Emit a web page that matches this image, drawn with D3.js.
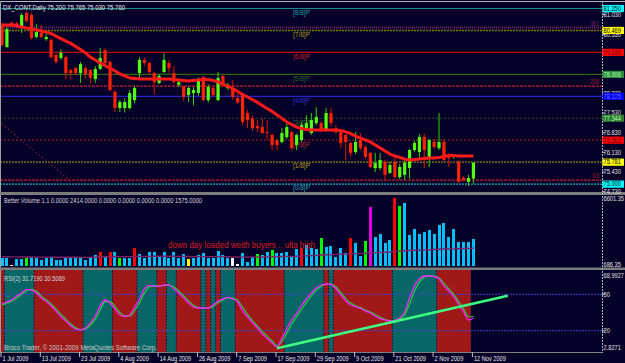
<!DOCTYPE html>
<html>
<head>
<meta charset="utf-8">
<script src="https://cdn.jsdelivr.net/npm/d3@7"></script>
<style>
  body { margin: 0; background: #050028; }
  svg { display: block; }
  text { font-family: "Liberation Sans", Arial, sans-serif; }
</style>
</head>
<body>
<svg id="chart" width="625" height="363"></svg>
<script>
// ---- datos ----
const opens  = [80.66,79.88,80.74,80.73,80.59,81.09,81.02,80.24,80.38,80.16,80.13,79.60,79.49,79.52,79.06,79.13,78.95,79.13,79.06,78.74,
                79.10,79.77,79.35,78.28,77.71,77.71,77.71,77.99,78.95,79.42,79.31,78.95,78.60,78.99,79.31,78.95,78.53,78.46,78.17,78.24,
                78.24,78.81,77.99,78.42,77.99,78.85,78.42,78.42,78.06,78.17,77.53,77.35,77.07,77.03,76.85,76.75,76.57,76.50,76.67,76.85,
                76.39,76.57,76.99,76.82,77.17,77.17,76.93,77.53,76.99,76.85,76.75,76.46,76.14,76.57,76.32,76.11,75.57,75.57,75.79,75.40,
                75.79,75.25,75.33,75.57,76.21,76.14,76.68,75.97,76.50,76.28,76.50,76.04,75.97,75.79,75.22,75.08,75.20];
const highs  = [80.75,80.60,80.80,80.78,81.09,81.15,81.10,80.70,80.66,80.35,80.20,79.65,79.80,79.58,79.10,79.18,79.35,79.20,79.10,79.20,
                79.85,79.85,79.40,78.35,78.00,78.05,78.35,78.50,79.52,79.50,79.35,79.00,78.92,79.66,79.42,79.20,78.70,78.50,78.48,78.45,
                78.80,78.85,78.55,78.50,78.99,78.90,78.60,78.71,78.20,78.25,77.64,77.45,77.28,77.35,77.28,76.80,76.62,77.00,77.15,76.90,
                76.80,77.21,77.45,77.53,77.74,77.25,77.71,77.71,77.10,76.92,76.80,76.50,76.85,76.82,76.40,76.15,76.11,76.11,75.86,75.79,
                75.97,75.72,75.86,76.25,76.55,76.78,76.78,76.62,76.60,77.53,76.60,76.11,76.07,75.86,75.30,75.33,75.765];
const lows   = [79.90,79.85,80.60,80.58,80.38,80.75,80.15,80.18,80.20,80.10,79.48,79.28,79.42,78.75,78.72,78.90,78.60,78.75,78.60,78.60,
                79.05,79.25,78.30,77.57,77.57,77.55,77.65,77.88,78.70,79.20,78.90,78.20,78.55,78.95,78.95,78.55,78.45,77.95,77.92,77.80,
                78.15,77.95,77.90,78.10,77.95,78.45,78.35,78.00,77.85,77.10,77.00,76.90,76.85,76.78,76.57,76.20,76.21,76.45,76.60,76.21,
                76.21,76.50,76.95,76.75,77.10,76.85,76.88,77.05,76.78,76.28,75.86,75.97,76.07,76.21,75.90,75.57,75.43,75.50,75.15,75.36,
                75.20,75.18,75.15,75.20,76.15,75.86,75.57,75.61,76.25,76.21,75.80,75.61,75.90,75.04,75.10,74.93,75.03];
const closes = [79.95,80.52,80.66,80.64,81.02,80.80,80.20,80.41,80.24,80.24,79.52,79.35,79.67,78.95,78.95,78.95,79.27,78.92,78.78,79.10,
                79.49,79.31,78.35,77.71,77.92,77.92,78.24,78.42,79.42,79.31,78.99,78.63,78.85,79.42,79.13,78.63,78.63,78.10,78.42,78.35,
                78.71,77.99,78.46,78.17,78.78,78.53,78.53,78.10,77.90,77.21,77.28,76.99,76.99,76.82,76.82,76.39,76.39,76.82,77.03,76.28,
                76.75,77.10,77.17,77.28,77.39,76.93,77.53,77.17,76.85,76.46,76.50,76.11,76.50,76.28,75.97,75.61,75.75,75.86,75.33,75.68,
                75.25,75.61,75.75,76.21,76.46,76.68,76.21,76.57,76.32,76.50,75.86,75.93,76.00,75.08,75.15,75.22,75.76];
const maLine = [80.66,80.66,80.66,80.63,80.59,80.56,80.52,80.49,80.45,80.41,80.36,80.27,80.18,80.09,80.01,79.90,79.79,79.67,79.52,79.42,
                79.31,79.22,79.13,79.03,78.92,78.85,78.78,78.76,78.74,78.74,78.74,78.74,78.74,78.74,78.74,78.72,78.71,78.69,78.67,78.69,
                78.71,78.72,78.72,78.69,78.64,78.56,78.49,78.40,78.30,78.19,78.10,78.01,77.91,77.80,77.69,77.59,77.46,77.34,77.21,77.12,
                77.03,76.98,76.94,76.93,76.93,76.93,76.93,76.93,76.93,76.91,76.86,76.80,76.71,76.64,76.57,76.50,76.39,76.29,76.18,76.07,
                76.00,75.95,75.89,75.86,75.88,75.89,75.91,75.93,75.93,75.95,75.98,76.02,76.02,76.00,76.00,76.00,76.00];

const volumes = [1353,1353,773,1266,1266,1353,1498,1353,1208,1353,1498,1208,1208,1353,1353,1353,1353,1208,1353,1643,
                 1933,1556,1933,1875,1353,1353,1353,2223,1701,1411,1875,1933,1585,1875,1411,1875,1353,1730,1266,1353,
                 1643,1846,1411,1353,1991,1643,1411,1411,860,1788,1063,1498,1730,1643,1933,2078,1788,1846,1933,1498,
                 2165,2281,2513,2223,2165,3151,2368,2426,1498,2281,1846,3151,2658,1556,2861,5848,3180,3470,2658,2948,
                 6601,5935,6196,3383,3905,3470,3615,3818,3470,4253,4398,3180,3934,2803,2803,2803,3006];
const volKinds = "bbwbbgbbbb" + "bbbbbbbbbb" + "rbrbgbbrbb" + "bbbbbbbbyb" + "bbbbbbbwwb" +
                 "bbgbbgbbbb" + "brbbbgbbbb" + "brbbgmbbbb" + "rgbbbbbbbb" + "bbbbbbb";
const volAvg = [1500,1490,1480,1480,1470,1470,1470,1460,1460,1460,1460,1450,1450,1450,1450,1450,1440,1440,1440,1450,
                1470,1490,1500,1510,1500,1500,1500,1510,1520,1520,1520,1530,1530,1540,1530,1530,1520,1520,1510,1500,
                1500,1500,1500,1500,1500,1500,1490,1480,1470,1460,1460,1460,1460,1470,1480,1490,1500,1510,1520,1520,
                1530,1550,1570,1590,1610,1640,1660,1680,1690,1710,1720,1740,1760,1770,1790,1830,1850,1870,1880,1900,
                1940,1980,2010,2030,2050,2070,2090,2100,2120,2140,2160,2170,2180,2190,2200,2220,2230];

const rsiMain = [42.0,43.7,45.3,48.6,51.1,54.0,53.5,51.1,46.9,44.1,40.4,36.2,31.3,28.0,23.9,21.4,20.6,22.2,26.4,32.1,
                 40.4,45.3,42.8,37.9,33.0,31.7,33.0,39.5,46.1,54.4,57.3,56.8,56.8,57.7,57.7,54.4,51.1,46.9,42.8,39.5,
                 38.7,38.7,38.7,41.2,44.5,46.1,47.4,46.1,43.7,36.2,31.3,26.4,22.2,17.3,13.6,9.8,6.5,14.0,21.4,28.8,
                 34.2,40.8,46.1,51.1,55.2,57.7,58.5,58.1,54.4,49.4,44.5,41.2,39.9,38.3,36.2,34.6,32.1,30.0,28.8,28.0,
                 28.4,30.5,35.4,46.9,56.8,62.6,65.1,65.1,64.7,62.6,56.8,52.7,47.8,41.6,35.4,28.8,30.5];
const rsiSignal = [41.0,42.8,44.5,47.0,50.0,53.0,54.0,52.5,48.5,45.5,42.0,38.0,33.5,29.5,25.5,22.5,20.8,21.5,24.5,29.5,
                   37.0,44.0,44.0,40.0,35.0,32.2,32.2,36.5,43.0,51.0,56.0,57.2,56.8,57.3,57.8,56.0,52.8,48.8,44.8,41.0,
                   39.0,38.7,38.7,40.0,43.0,45.5,47.0,46.8,45.0,39.5,33.5,28.5,24.0,19.5,15.5,11.5,7.5,11.0,18.0,25.5,
                   31.5,37.5,43.5,48.8,53.5,56.5,58.3,58.4,56.0,51.5,46.5,42.8,40.5,39.0,37.0,35.3,33.2,31.0,29.3,28.3,
                   28.2,29.6,33.0,42.0,52.5,60.0,64.0,65.2,65.0,63.5,59.0,54.5,50.0,44.0,38.0,31.5,31.7];
// r = zona roja, t = zona verde azulada, n = sin zona
const rsiZones = "r" + "tttttt" + "rrrrrrrrrr" + "tttttt" + "rrrrr" + "tttt" + "rr" + "tt" + "rrrrr" + "t" + "r" + "t" + "r" +
                 "ttt" + "rrrrrrrrrr" + "tttttttt" + "r" + "t" + "rrrrrrrrrrrr" + "ttttttttt" + "rrrrrrr" + "n";
const rsiTrend = [[56, 5.5], [103, 48.8]];

const murreyLevels = [81.25, 80.469, 79.688, 78.906, 78.125, 77.344, 76.563, 75.781, 75.0];
const murreyNames  = ['[8/8]P','[7/8]P','[6/8]P','[5/8]P','[4/8]P','[3/8]P','[2/8]P','[1/8]P','[0/8]P'];
const murreyTags   = ['81.250','80.469','79.688','78.906','78.125','77.344','76.563','75.781','75.000'];
const fibLevels = [80.57, 78.49, 75.14];
const fibNames  = ['38.2', '23.6', '0.0'];
const fibAnchor = [[0, 77.14], [13.65, 75.15]];
const priceTicks = [81.03, 80.33, 79.63, 78.93, 78.23, 77.53, 76.83, 76.13, 75.43, 74.73];
const dateTicks = [[0,'1 Jul 2009'],[8,'13 Jul 2009'],[16,'23 Jul 2009'],[24,'4 Aug 2009'],[32,'14 Aug 2009'],
                   [40,'26 Aug 2009'],[48,'7 Sep 2009'],[56,'17 Sep 2009'],[64,'29 Sep 2009'],[72,'9 Oct 2009'],
                   [80,'21 Oct 2009'],[88,'2 Nov 2009'],[96,'12 Nov 2009']];

// ---- estilos ----
const murreyLine = ['#148c8c','#7c7a00','#c01010','#2c6410','#2424c8','#24501c','#8c1c1c','#8c8414','#1cb4c4'];
const murreyDash = [null,'2,1',null,null,null,'2,2','2,2','2,1','2,1'];
const murreyLabelColor = ['#1aa0a0','#a09a18','#c02020','#2a6a2a','#3434d0','#306030','#a83030','#b0a018','#20a8b0'];
const murreyBox = ['#00ffff','#ffff00','#ff0000','#2e8b3e','#0000ff','#2e7d32','#ff0000','#ffff00','#00ffff'];
const murreyBoxText = ['#000000','#000000','#700000','#b0ffb0','#7070ff','#b0ffb0','#700000','#000000','#000000'];
const fibColor = ['#7a2070','#c02030','#c02030'];
const volColor = { b: '#00bfff', r: '#ff0000', g: '#00ff00', w: '#ffffff', y: '#ffff00', m: '#e000e0' };

const svg = d3.select('#chart');
const W = 625, H = 363, axisX = 602;

const x = d3.scaleLinear().domain([0, 96]).range([2, 473.4]);
const yPrice = d3.scaleLinear().domain([74.73, 81.03]).range([191.7, 14.7]);
const yVol = d3.scaleLinear().domain([686.35, 6601.35]).range([266, 198]);
const yRsi = d3.scaleLinear().domain([2.8271, 68.9927]).range([351.5, 271.3]);

function addText(sel, px, py, str, fill, size, width, anchor) {
    const t = sel.append('text').attr('x', px).attr('y', py).attr('fill', fill)
        .attr('font-size', size).text(str);
    if (anchor) t.attr('text-anchor', anchor);
    if (width) t.attr('textLength', width).attr('lengthAdjust', 'spacingAndGlyphs');
    return t;
}
function squeeze(t, k) {
    const w = t.node().getComputedTextLength();
    t.attr('textLength', w * k).attr('lengthAdjust', 'spacingAndGlyphs');
    return t;
}
// etiquetas del eje derecho: letra pequena y algo comprimida
function axisLabel(py, str, fill) {
    return squeeze(addText(axisG, 603.5, py, str, fill, 6.3), 0.9);
}

svg.append('rect').attr('width', W).attr('height', H).attr('fill', '#050028');

const defs = svg.append('defs');
[['clipMain', 0, 2, axisX, 190], ['clipVol', 0, 195, axisX, 72], ['clipRsi', 0, 270, axisX, 82]].forEach(c => {
    defs.append('clipPath').attr('id', c[0]).append('rect')
        .attr('x', c[1]).attr('y', c[2]).attr('width', c[3]).attr('height', c[4]);
});

// ================= panel principal =================
const main = svg.append('g').attr('clip-path', 'url(#clipMain)');

murreyLevels.forEach((lv, i) => {
    main.append('line').attr('x1', 0).attr('x2', axisX)
        .attr('y1', yPrice(lv)).attr('y2', yPrice(lv))
        .attr('stroke', murreyLine[i]).attr('stroke-width', i === 1 ? 1.6 : 1.2)
        .attr('stroke-dasharray', murreyDash[i]);
    addText(main, 293, yPrice(lv) + 6.3, murreyNames[i], murreyLabelColor[i], 7, 17);
});

fibLevels.forEach((lv, i) => {
    main.append('line').attr('x1', 0).attr('x2', axisX)
        .attr('y1', yPrice(lv)).attr('y2', yPrice(lv))
        .attr('stroke', fibColor[i]).attr('stroke-width', i === 0 ? 2 : 1.2)
        .attr('stroke-dasharray', i === 0 ? '1,1' : '3,1');
    addText(main, 599, yPrice(lv) - 2, fibNames[i], fibColor[i], 7, fibNames[i].length * 2.1, 'end');
});

main.append('line')
    .attr('x1', x(fibAnchor[0][0])).attr('y1', yPrice(fibAnchor[0][1]))
    .attr('x2', x(fibAnchor[1][0])).attr('y2', yPrice(fibAnchor[1][1]))
    .attr('stroke', '#a02050').attr('stroke-width', 1.2).attr('stroke-dasharray', '1,3');

const bars = d3.range(opens.length);
const candle = main.selectAll('.candle').data(bars).enter().append('g');
candle.append('line')
    .attr('x1', i => x(i)).attr('x2', i => x(i))
    .attr('y1', i => yPrice(highs[i])).attr('y2', i => yPrice(lows[i]))
    .attr('stroke', i => closes[i] >= opens[i] ? '#33d000' : '#e01000').attr('stroke-width', 1);
candle.append('rect')
    .attr('x', i => x(i) - 1.6).attr('width', 3.2)
    .attr('y', i => yPrice(Math.max(opens[i], closes[i])))
    .attr('height', i => Math.max(1, Math.abs(yPrice(opens[i]) - yPrice(closes[i]))))
    .attr('fill', i => closes[i] >= opens[i] ? '#55ff10' : '#ff2200');

main.append('path').datum(bars)
    .attr('d', d3.line().x(i => x(i)).y(i => yPrice(maLine[i])))
    .attr('fill', 'none').attr('stroke', '#ff1a1a').attr('stroke-width', 3).attr('stroke-linejoin', 'round');

addText(svg, 3, 9.5, 'DX_CONT,Daily  75.200 75.765 75.030 75.760', '#e8e8e8', 7.5, 122);

// ================= volumen =================
const vol = svg.append('g').attr('clip-path', 'url(#clipVol)');
vol.selectAll('.vbar').data(bars).enter().append('rect')
    .attr('x', i => x(i) - 1.5).attr('width', 3)
    .attr('y', i => yVol(volumes[i]))
    .attr('height', i => 266 - yVol(volumes[i]))
    .attr('fill', i => volColor[volKinds[i]])
    .attr('shape-rendering', 'crispEdges');
vol.append('path').datum(bars)
    .attr('d', d3.line().x(i => x(i)).y(i => yVol(volAvg[i])))
    .attr('fill', 'none').attr('stroke', '#80206a').attr('stroke-width', 1.4);
addText(svg, 4, 203, 'Better Volume 1.1 0.0000 2414.0000 0.0000 0.0000 0.0000 0.0000 1575.0000', '#d8d8d8', 7.5, 198);
addText(svg, 168, 248, 'down day loaded weith buyers .. ulta high', '#d42020', 9.5, 147);

// ================= RSI =================
const rsi = svg.append('g').attr('clip-path', 'url(#clipRsi)');
const zoneColor = { r: '#a01818', t: '#086666' };
// agrupar barras consecutivas de la misma zona en un solo bloque
const zoneRuns = [];
bars.forEach(i => {
    const z = rsiZones[i];
    const last = zoneRuns[zoneRuns.length - 1];
    if (last && last.zone === z) last.end = i;
    else zoneRuns.push({ zone: z, start: i, end: i });
});
rsi.selectAll('.zone').data(zoneRuns.filter(r => r.zone !== 'n')).enter().append('rect')
    .attr('x', r => x(r.start - 0.5)).attr('width', r => x(r.end + 0.5) - x(r.start - 0.5))
    .attr('y', 270).attr('height', 82)
    .attr('fill', r => zoneColor[r.zone])
    .attr('shape-rendering', 'crispEdges');
zoneRuns.slice(1).forEach(r => {
    rsi.append('line').attr('x1', x(r.start - 0.5)).attr('x2', x(r.start - 0.5)).attr('y1', 270).attr('y2', 352)
        .attr('stroke', '#1c1c44').attr('stroke-width', 1).attr('stroke-dasharray', '2,1');
});
[50, 20].forEach(v => {
    rsi.append('line').attr('x1', 0).attr('x2', axisX).attr('y1', yRsi(v)).attr('y2', yRsi(v))
        .attr('stroke', '#4040d0').attr('stroke-width', 1).attr('stroke-dasharray', '2,1');
});
rsi.append('path').datum(bars)
    .attr('d', d3.line().x(i => x(i)).y(i => yRsi(rsiSignal[i])).curve(d3.curveMonotoneX))
    .attr('fill', 'none').attr('stroke', '#20d040').attr('stroke-width', 1.2);
rsi.append('path').datum(bars)
    .attr('d', d3.line().x(i => x(i)).y(i => yRsi(rsiMain[i])).curve(d3.curveMonotoneX))
    .attr('fill', 'none').attr('stroke', '#ff20ff').attr('stroke-width', 1.3);
rsi.append('line')
    .attr('x1', x(rsiTrend[0][0])).attr('y1', yRsi(rsiTrend[0][1]))
    .attr('x2', x(rsiTrend[1][0])).attr('y2', yRsi(rsiTrend[1][1]))
    .attr('stroke', '#3cff80').attr('stroke-width', 2.6);
addText(svg, 4, 280.5, 'RSI(2) 31.7190 30.5069', '#d8d8d8', 7.5, 61);
addText(svg, 4, 349.5, 'Broco Trader, \u00a9 2001-2009 MetaQuotes Software Corp.', '#c8c8c8', 7.5, 153);

// ================= marcos =================
svg.append('line').attr('x1', 0).attr('x2', W).attr('y1', 1.5).attr('y2', 1.5).attr('stroke', '#b8b8b8');
svg.append('line').attr('x1', 0.5).attr('x2', 0.5).attr('y1', 1).attr('y2', 352).attr('stroke', '#a0a0a0');
svg.append('rect').attr('x', 0).attr('y', 192).attr('width', W).attr('height', 3).attr('fill', '#7c7c7c');
svg.append('rect').attr('x', 0).attr('y', 267.5).attr('width', W).attr('height', 2.5).attr('fill', '#7c7c7c');
svg.append('line').attr('x1', 0).attr('x2', axisX).attr('y1', 352.5).attr('y2', 352.5).attr('stroke', '#808080');
svg.append('line').attr('x1', axisX + 0.5).attr('x2', axisX + 0.5).attr('y1', 1).attr('y2', 353)
    .attr('stroke', '#b0b0b0').attr('stroke-dasharray', '2,1');

// ================= ejes =================
const axisG = svg.append('g');
priceTicks.forEach(p => {
    axisG.append('line').attr('x1', axisX).attr('x2', axisX + 3).attr('y1', yPrice(p)).attr('y2', yPrice(p)).attr('stroke', '#c0c0c0');
    // las etiquetas que quedan tapadas del todo por un recuadro no se ven en el original
    const hidden = murreyLevels.some(lv => Math.abs(yPrice(lv) - yPrice(p)) < 2.5);
    if (!hidden) axisLabel(yPrice(p) + 2.3, p.toFixed(3), '#e0e0e0');
});
murreyLevels.forEach((lv, i) => {
    axisG.append('rect').attr('x', axisX + 0.5).attr('y', yPrice(lv) - 3.6).attr('width', 21.5).attr('height', 7.2)
        .attr('fill', murreyBox[i]);
    axisLabel(yPrice(lv) + 2.3, murreyTags[i], murreyBoxText[i]);
});
axisLabel(200.5, '6601.35', '#e0e0e0');
axisLabel(267, '686.35', '#e0e0e0');
axisLabel(277.5, '68.9927', '#e0e0e0');
[50, 20].forEach(v => {
    axisG.append('line').attr('x1', axisX).attr('x2', axisX + 3).attr('y1', yRsi(v)).attr('y2', yRsi(v)).attr('stroke', '#c0c0c0');
    axisLabel(yRsi(v) + 2.3, String(v), '#e0e0e0');
});
axisLabel(349.5, '2.8271', '#e0e0e0');

dateTicks.forEach(d => {
    axisG.append('line').attr('x1', x(d[0]) - 1).attr('x2', x(d[0]) - 1).attr('y1', 352).attr('y2', 357).attr('stroke', '#c0c0c0');
    squeeze(addText(axisG, x(d[0]) + 0.5, 361, d[1], '#e8e8e8', 7.5), 0.75);
});
</script>
</body>
</html>
